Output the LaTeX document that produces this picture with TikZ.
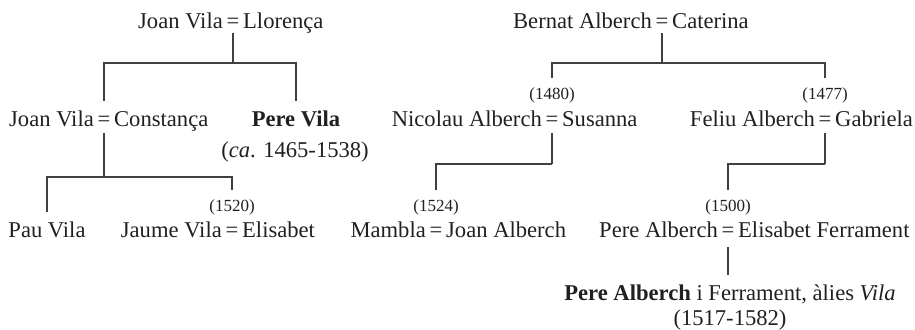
\documentclass[tikz,border=0pt]{standalone}
\usepackage{fontspec}
\setmainfont{Liberation Serif}
\usepackage{xcolor}
\usepackage{tikz}
\usetikzlibrary{positioning,calc}
\definecolor{ink}{HTML}{231F20}
\newcommand{\pfont}{\fontsize{11.3}{13.5}\selectfont}
\newcommand{\yfont}{\fontsize{8.5}{10}\selectfont}

\begin{document}
\begin{tikzpicture}[x=0.5pt, y=-0.5pt, text=ink,
    pers/.style={inner sep=0pt, font=\pfont, text height=8pt, text depth=2pt},
    eqs/.style={inner xsep=1.5pt, inner ysep=0pt, font=\pfont, text height=8pt, text depth=2pt},
    yr/.style={inner sep=0pt, font=\yfont, text height=6pt, text depth=2pt},
    link/.style={draw=black!75, line width=0.65pt},
    kid/.style={shorten >=5pt}]
    \useasboundingbox (0,0) rectangle (915,330);

    % Vila family
    \node[eqs, anchor=base] (eq1) at (233,29) {=};
    \node[pers, anchor=base east] (jv1) at (eq1.base west) {Joan Vila};
    \node[pers, anchor=base west] (llo) at (eq1.base east) {Llorença};

    \node[eqs, anchor=base] (eq2) at (104,127) {=};
    \node[pers, anchor=base east] (jv2) at (eq2.base west) {Joan Vila};
    \node[pers, anchor=base west] (con) at (eq2.base east) {Constança};

    \node[pers, anchor=base] (pv) at (296,127) {\textbf{Pere Vila}};
    \node[pers, anchor=base] (pvd) at (295,158) {(\textit{ca}. 1465-1538)};

    \node[pers, anchor=base] (pau) at (47,238) {Pau Vila};
    \node[eqs, anchor=base] (eq3) at (232,238) {=};
    \node[pers, anchor=base east] (jau) at (eq3.base west) {Jaume Vila};
    \node[pers, anchor=base west] (eli) at (eq3.base east) {Elisabet};
    \node[yr, anchor=base] (d1520) at (232,212) {(1520)};

    % Alberch family
    \node[eqs, anchor=base] (eq4) at (662,29) {=};
    \node[pers, anchor=base east] (ber) at (eq4.base west) {Bernat Alberch};
    \node[pers, anchor=base west] (cat) at (eq4.base east) {Caterina};

    \node[eqs, anchor=base] (eq5) at (552,127) {=};
    \node[pers, anchor=base east] (nic) at (eq5.base west) {Nicolau Alberch};
    \node[pers, anchor=base west] (sus) at (eq5.base east) {Susanna};
    \node[yr, anchor=base] (d1480) at (552,100) {(1480)};

    \node[eqs, anchor=base] (eq6) at (825,127) {=};
    \node[pers, anchor=base east] (fel) at (eq6.base west) {Feliu Alberch};
    \node[pers, anchor=base west] (gab) at (eq6.base east) {Gabriela};
    \node[yr, anchor=base] (d1477) at (825,100) {(1477)};

    \node[eqs, anchor=base] (eq7) at (436,238) {=};
    \node[pers, anchor=base east] (mam) at (eq7.base west) {Mambla};
    \node[pers, anchor=base west] (joa) at (eq7.base east) {Joan Alberch};
    \node[yr, anchor=base] (d1524) at (436,212) {(1524)};

    \node[eqs, anchor=base] (eq8) at (728,238) {=};
    \node[pers, anchor=base east] (pa) at (eq8.base west) {Pere Alberch};
    \node[pers, anchor=base west] (ef) at (eq8.base east) {Elisabet Ferrament};
    \node[yr, anchor=base] (d1500) at (728,212) {(1500)};

    \node[pers, anchor=base] (fin) at (730,301) {\textbf{Pere Alberch} i Ferrament, àlies \textit{Vila}};
    \node[pers, anchor=base] (find) at (730,326) {(1517-1582)};

    % Lines
    \coordinate (k1) at (eq1.south |- 0,63);
    \draw[link] (eq1.south) -- (k1);
    \draw[link, kid] (k1) -| (eq2.north);
    \draw[link, kid] (k1) -| (pv.north);

    \coordinate (k2) at (eq2.south |- 0,177);
    \draw[link] ([yshift=-1pt]eq2.south) -- (k2);
    \draw[link, kid] (k2) -| (pau.north);
    \draw[link, kid] (k2) -| (d1520.north);

    \coordinate (k4) at (eq4.south |- 0,63);
    \draw[link] (eq4.south) -- (k4);
    \draw[link, kid] (k4) -| (d1480.north);
    \draw[link, kid] (k4) -| (d1477.north);

    \coordinate (k5) at (eq5.south |- 0,164);
    \draw[link] ([yshift=-1pt]eq5.south) -- (k5);
    \draw[link, kid] (k5) -| (d1524.north);

    \coordinate (k6) at (eq6.south |- 0,164);
    \draw[link] ([yshift=-1pt]eq6.south) -- (k6);
    \draw[link, kid] (k6) -| (d1500.north);

    \draw[link, kid, shorten <=2.5pt] (eq8.south) -- (eq8.south |- fin.north);
\end{tikzpicture}
\end{document}
